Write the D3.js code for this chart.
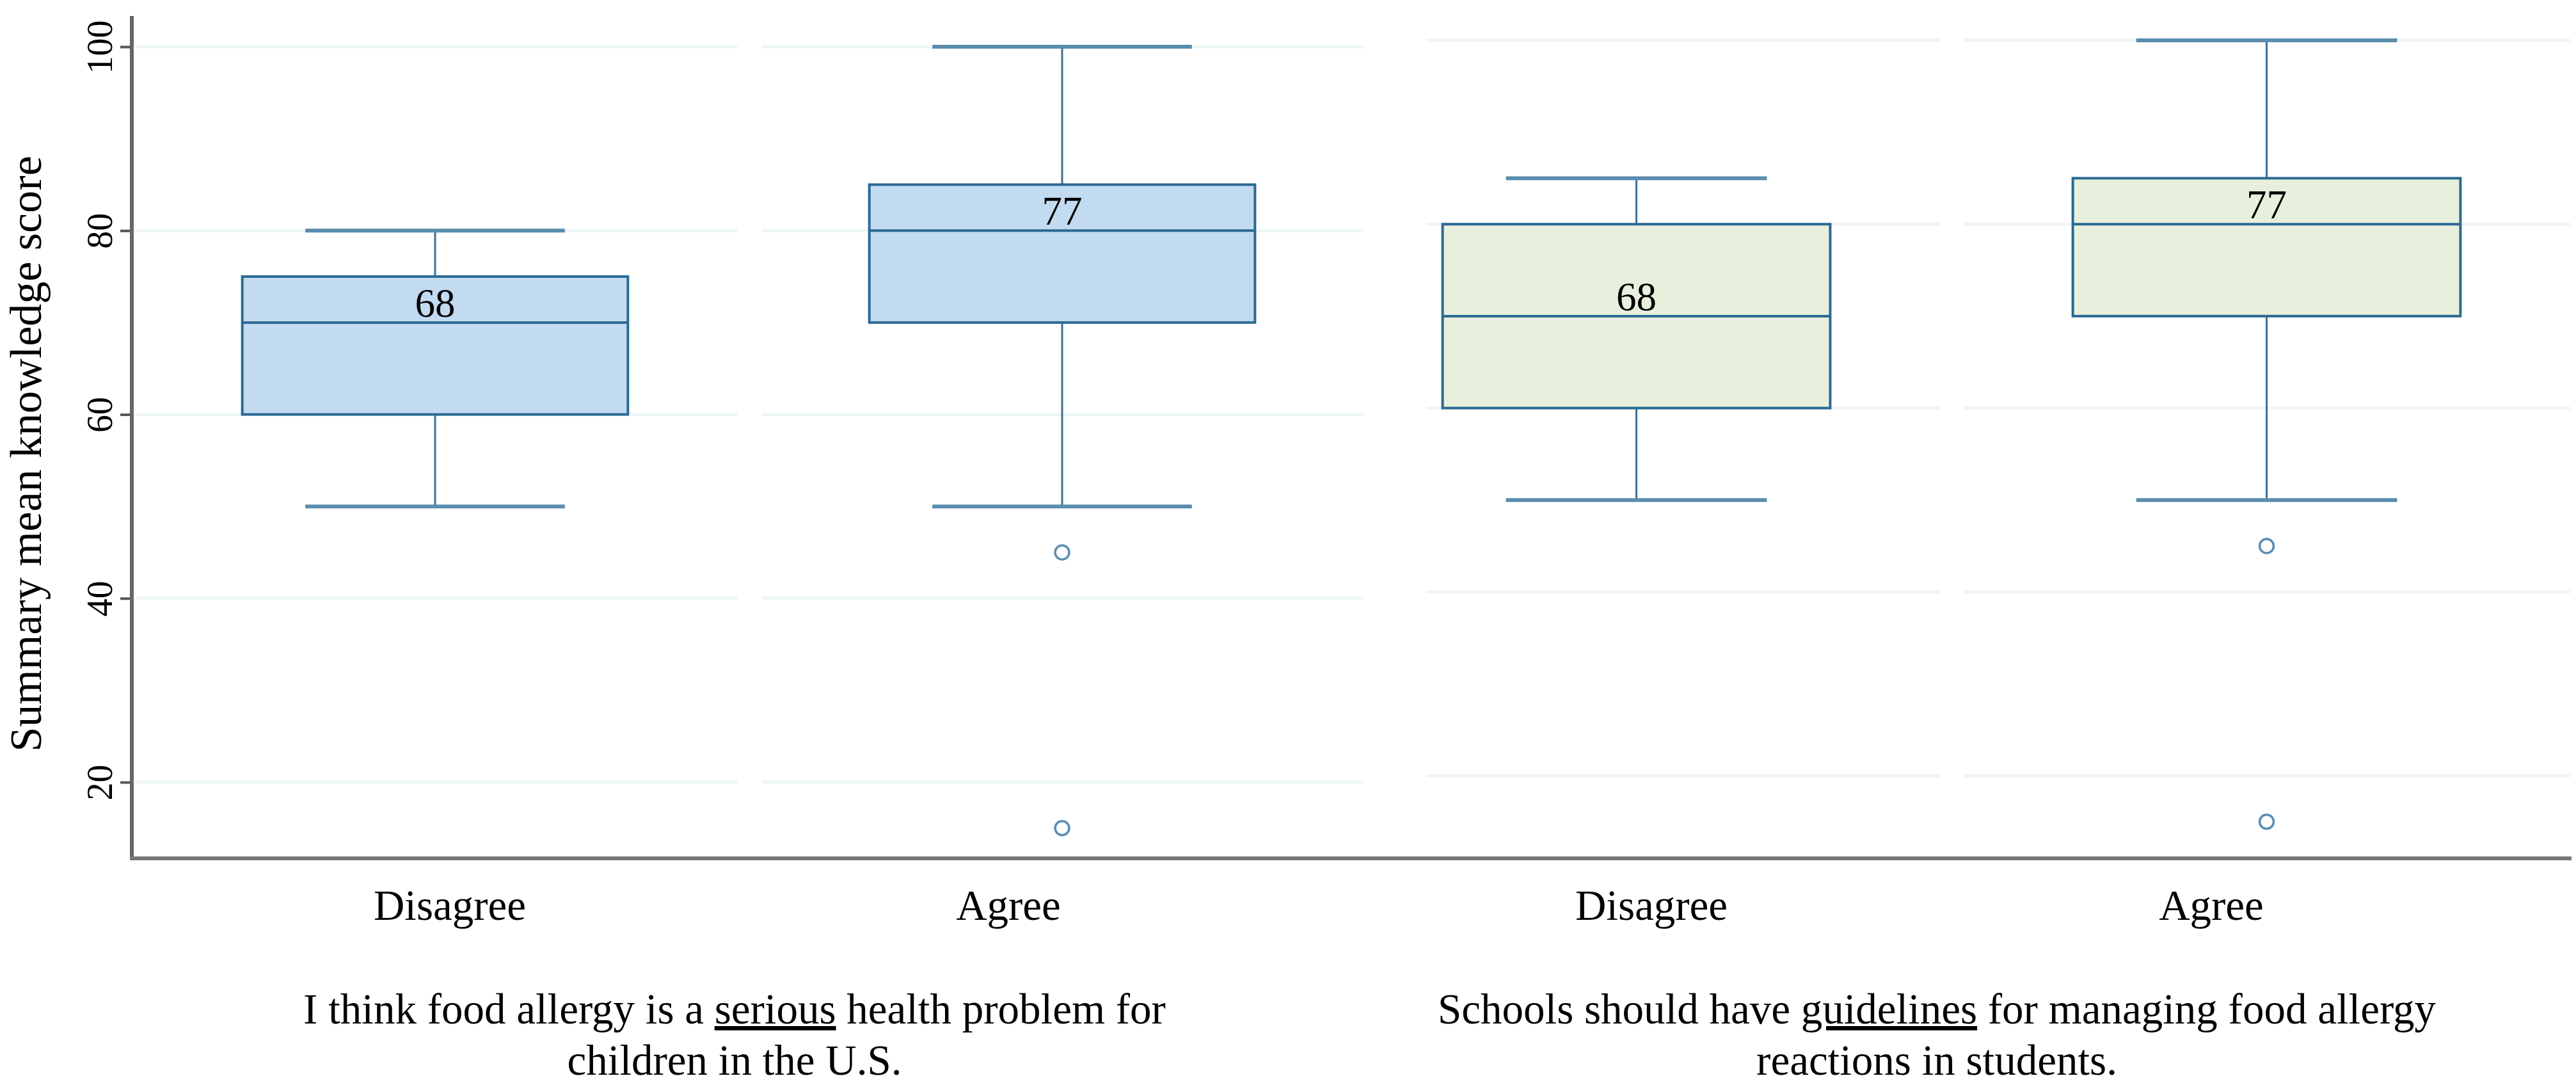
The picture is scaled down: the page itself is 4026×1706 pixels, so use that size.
<!DOCTYPE html>
<html lang="en">
<head>
  <meta charset="UTF-8">
  <title>Summary mean knowledge score</title>
  <script src="https://d3js.org/d3.v7.min.js"></script>
  <style>
    body { margin: 0; padding: 0; overflow: hidden; background: #fff; }
    text { font-family: "Liberation Serif", "Times New Roman", serif; fill: #000; }
  </style>
</head>
<body>
  <svg id="chart" width="4026" height="1706"></svg>

  <script>
    // Data
    const categories = ["Disagree", "Agree"];

    // panel 1: "serious health problem"
    const seriousLow  = [50, 50];
    const seriousQ1   = [60, 70];
    const seriousMed  = [70, 80];
    const seriousQ3   = [75, 85];
    const seriousHigh = [80, 100];
    const seriousMean = [68, 77];
    const seriousOut  = [[], [45, 15]];

    // panel 2: "should have guidelines"
    const guideLow  = [50, 50];
    const guideQ1   = [60, 70];
    const guideMed  = [70, 80];
    const guideQ3   = [80, 85];
    const guideHigh = [85, 100];
    const guideMean = [68, 77];
    const guideOut  = [[], [45, 15]];

    const yTicks = [20, 40, 60, 80, 100];

    const panels = [
      { line1: ["I think food allergy is a ", "serious", " health problem for"], line2: "children in the U.S.",
        low: seriousLow, q1: seriousQ1, med: seriousMed, q3: seriousQ3, high: seriousHigh, mean: seriousMean, out: seriousOut,
        fill: "#c3dbf1", band: [190, 2150], labels: [703, 1576], gridStart: 212, shift: 0 },
      { line1: ["Schools should have ", "guidelines", " for managing food allergy"], line2: "reactions in students.",
        low: guideLow, q1: guideQ1, med: guideMed, q3: guideQ3, high: guideHigh, mean: guideMean, out: guideOut,
        fill: "#e8f0dd", band: [2065, 4035], labels: [2581, 3456], gridStart: 2229, shift: -10 }
    ];

    const svg = d3.select("#chart");
    const axisX = 206, axisBottom = 1341, axisTop = 25, axisRight = 4019;
    const stroke = "#2b6a94";

    panels.forEach((p, pi) => {
      const y = d3.scaleLinear().domain([20, 100]).range([1222 + p.shift, 73 + p.shift]);
      const x = d3.scaleBand().domain(categories).range(p.band);
      const lx = d3.scalePoint().domain(categories).range(p.labels);
      const boxW = x.step() * 0.615;
      const capW = boxW * 0.673;
      const g = svg.append("g");

      // gridlines, one segment per category
      categories.forEach(c => {
        g.selectAll(null).data(yTicks).join("line")
          .attr("x1", Math.max(x(c) + 20, p.gridStart))
          .attr("x2", x(c) + x.bandwidth() - 18)
          .attr("y1", d => y(d)).attr("y2", d => y(d))
          .attr("stroke", "#eef5f7").attr("stroke-width", 5);
      });

      const cats = categories.map((c, i) => ({ c, i, cx: x(c) + x.bandwidth() / 2 }));
      const box = g.selectAll(".box").data(cats).join("g").attr("class", "box");

      // whiskers
      box.append("line")
        .attr("x1", d => d.cx).attr("x2", d => d.cx)
        .attr("y1", d => y(p.high[d.i])).attr("y2", d => y(p.low[d.i]))
        .attr("stroke", "#3b7098").attr("stroke-width", 3);
      ["high", "low"].forEach(k => {
        box.append("line")
          .attr("x1", d => d.cx - capW / 2).attr("x2", d => d.cx + capW / 2)
          .attr("y1", d => y(p[k][d.i])).attr("y2", d => y(p[k][d.i]))
          .attr("stroke", "#5a8cae").attr("stroke-width", 6);
      });

      // box
      box.append("rect")
        .attr("x", d => d.cx - boxW / 2).attr("width", boxW)
        .attr("y", d => y(p.q3[d.i])).attr("height", d => y(p.q1[d.i]) - y(p.q3[d.i]))
        .attr("fill", p.fill).attr("stroke", stroke).attr("stroke-width", 4);
      box.append("line")
        .attr("x1", d => d.cx - boxW / 2).attr("x2", d => d.cx + boxW / 2)
        .attr("y1", d => y(p.med[d.i])).attr("y2", d => y(p.med[d.i]))
        .attr("stroke", stroke).attr("stroke-width", 4);

      // mean labels sit just above the median line
      box.append("text")
        .attr("x", d => d.cx).attr("y", d => y(p.med[d.i]) - 9)
        .attr("text-anchor", "middle").attr("font-size", 63)
        .text(d => p.mean[d.i]);

      // outliers
      box.selectAll("circle").data(d => p.out[d.i].map(v => ({ v, cx: d.cx }))).join("circle")
        .attr("cx", d => d.cx).attr("cy", d => y(d.v)).attr("r", 11)
        .attr("fill", "none").attr("stroke", "#5b8db3").attr("stroke-width", 3.5);

      // category labels
      g.selectAll(".cat").data(categories).join("text").attr("class", "cat")
        .attr("x", d => lx(d)).attr("y", 1437)
        .attr("text-anchor", "middle").attr("font-size", 67)
        .text(d => d);

      // panel caption
      const cx = (p.band[0] + p.band[1]) / 2 + (pi === 0 ? -22 : -23);
      const t1 = g.append("text").attr("x", cx).attr("y", 1599)
        .attr("text-anchor", "middle").attr("font-size", 67);
      p.line1.forEach((s, j) => {
        t1.append("tspan").text(s)
          .style("text-decoration", j === 1 ? "underline" : "none");
      });
      g.append("text").attr("x", cx).attr("y", 1679)
        .attr("text-anchor", "middle").attr("font-size", 67)
        .text(p.line2);

      // y axis only on the first panel
      if (pi === 0) {
        const ax = svg.append("g").attr("transform", `translate(${axisX},0)`)
          .call(d3.axisLeft(y).tickValues(yTicks).tickSize(18).tickSizeOuter(0));
        ax.select(".domain").remove();
        ax.selectAll(".tick line").attr("stroke", "#555").attr("stroke-width", 4);
        ax.selectAll(".tick text")
          .attr("transform", "rotate(-90)")
          .attr("x", 0).attr("y", -31).attr("dy", 0)
          .attr("text-anchor", "middle")
          .attr("font-size", 56)
          .attr("font-family", "Liberation Serif").attr("fill", "#000");
      }
    });

    // axis lines
    svg.append("line").attr("x1", axisX).attr("x2", axisX).attr("y1", axisTop).attr("y2", axisBottom)
      .attr("stroke", "#666").attr("stroke-width", 6);
    svg.append("line").attr("x1", axisX - 3).attr("x2", axisRight).attr("y1", axisBottom).attr("y2", axisBottom)
      .attr("stroke", "#777").attr("stroke-width", 6);

    // y title
    svg.append("text")
      .attr("transform", "translate(64,709) rotate(-90)")
      .attr("text-anchor", "middle").attr("font-size", 70)
      .text("Summary mean knowledge score");
  </script>
</body>
</html>
